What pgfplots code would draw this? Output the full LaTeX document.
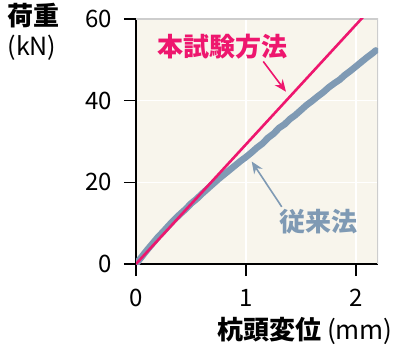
\documentclass[border=0pt]{standalone}
\usepackage{fontspec}
\setmainfont{Noto Sans CJK JP}
\usepackage{pgfplots}
\pgfplotsset{compat=1.18}
\usetikzlibrary{arrows.meta}
\definecolor{pk}{RGB}{238,22,110}
\definecolor{bl}{RGB}{127,154,180}
\definecolor{bgc}{RGB}{248,245,236}
\definecolor{bd}{RGB}{205,205,205}
\begin{document}
\begin{tikzpicture}
\begin{axis}[name=ax, scale only axis, width=121pt, height=122.5pt,
 xmin=0, xmax=2.2, ymin=0, ymax=60,
 xtick={0,1,2}, ytick={0,20,40,60},
 axis lines=left, axis line style={-, line width=0.8pt, black},
 tick align=outside, major tick length=6pt, tick style={black, line width=0.8pt},
 grid=major, grid style={white, line width=0.8pt},
 axis background/.style={fill=bgc},
 /pgf/number format/assume math mode=true,
 tick label style={font=\fontsize{12}{14}\selectfont},
 yticklabel style={xshift=-2.5pt},
 xticklabel style={yshift=-3pt},
 clip=true,
]
\draw[bd, line width=0.8pt] (rel axis cs:0,1) -- (rel axis cs:1,1) -- (rel axis cs:1,0);
\addplot[bl, line width=3.3pt, line join=round, line cap=round] coordinates {
(0,0) (0.05,1.7) (0.1,3.4) (0.15,5.0) (0.2,6.6) (0.25,8.0) (0.3,9.5) (0.35,10.9)
(0.4,12.2) (0.45,13.4) (0.5,14.8) (0.55,15.9) (0.6,17.2) (0.65,18.4) (0.7,19.6)
(0.75,20.8) (0.8,21.9) (0.85,23.0) (0.9,24.1) (0.95,25.2) (1.0,26.2) (1.05,27.3)
(1.1,28.5) (1.15,29.5) (1.2,30.9) (1.25,31.9) (1.3,33.3) (1.35,34.2) (1.4,35.5)
(1.45,36.5) (1.5,37.7) (1.55,38.9) (1.6,39.9) (1.65,41.0) (1.7,42.0) (1.75,43.2)
(1.8,44.2) (1.85,45.1) (1.9,46.3) (1.95,47.3) (2.0,48.4) (2.05,49.5) (2.1,50.6)
(2.15,51.6) (2.18,52.3)
};
\addplot[pk, line width=1.3pt] coordinates {(0,0) (2.2,64.46)};
\node[font=\bfseries\fontsize{13}{15}\selectfont, text=pk] at (axis cs:0.79,53.2) {本試験方法};
\node[font=\bfseries\fontsize{13}{15}\selectfont, text=bl] at (axis cs:1.66,10.3) {従来法};
\draw[pk, line width=0.8pt, -{Stealth[length=6pt,width=5pt]}] (axis cs:1.157,49.6) -- (axis cs:1.363,42.2);
\draw[bl, line width=0.8pt, -{Stealth[length=6pt,width=5pt]}] (axis cs:1.325,14.0) -- (axis cs:1.052,25.1);
\end{axis}
\node[font=\bfseries\fontsize{13}{15}\selectfont] at ([shift={(-51pt,1.5pt)}]ax.north west) {荷重};
\node[font=\fontsize{12.5}{15}\selectfont] at ([shift={(-52pt,-14.5pt)}]ax.north west) {(kN)};
\node[font=\fontsize{13}{15}\selectfont] at ([shift={(84.5pt,-33.5pt)}]ax.south west) {\textbf{杭頭変位} (mm)};
\pgfresetboundingbox
\path (ax.south west) ++(-68pt,-44pt) rectangle ++(200pt,176pt);
\end{tikzpicture}
\end{document}
